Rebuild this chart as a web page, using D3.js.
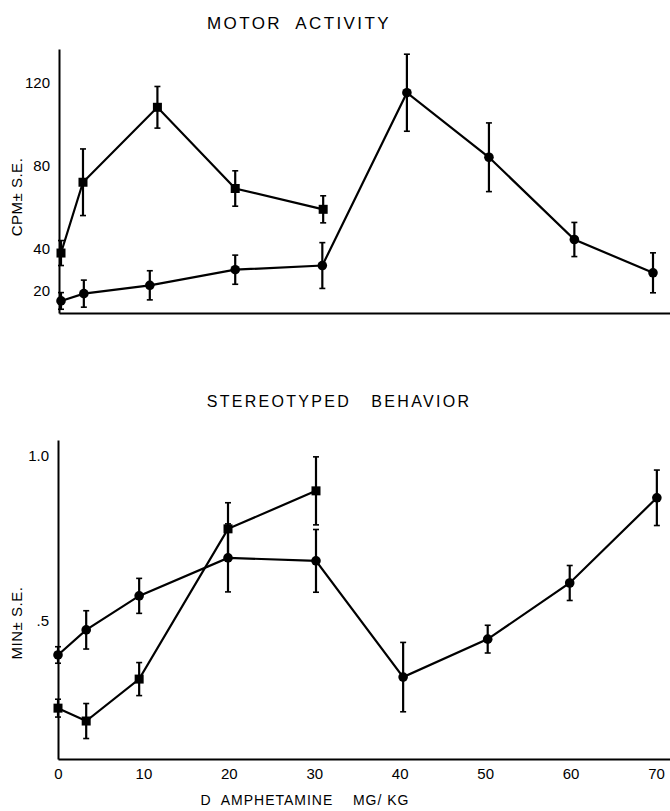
<!DOCTYPE html>
<html>
<head>
<meta charset="utf-8">
<script src="https://cdn.jsdelivr.net/npm/d3@7"></script>
<style>
  body { margin: 0; background: #fff; }
  svg { display: block; font-family: "Liberation Sans", Arial, sans-serif; }
  .lbl { white-space: pre; }
</style>
</head>
<body>
<div id="chart"></div>
<script>
// ---- motor activity (top panel) ----
const topDoseSq = [0, 2.6, 11.4, 20.6, 31.0];
const topCpmSq = [38, 72, 108, 69, 59];
const topCpmSqSE = [6, 16, 10, 8.5, 6.5];

const topDoseCirc = [0, 2.7, 10.5, 20.6, 30.9, 40.9, 50.6, 60.7, 70];
const topCpmCirc = [15, 18.5, 22.5, 30, 32, 115, 84, 44.5, 28.5];
const topCpmCircSE = [4, 6.5, 7, 7, 11, 18.5, 16.5, 8.2, 9.6];

const topTicks = [20, 40, 80, 120];

// ---- stereotyped behavior (bottom panel) ----
const botDoseSq = [0, 3.3, 9.5, 19.9, 30.2];
const botMinSq = [0.236, 0.197, 0.324, 0.779, 0.894];
const botMinSqSE = [0.027, 0.053, 0.05, 0.079, 0.103];

const botDoseCirc = [0, 3.3, 9.5, 19.9, 30.2, 40.4, 50.3, 59.9, 70.1];
const botMinCirc = [0.397, 0.473, 0.576, 0.691, 0.682, 0.330, 0.445, 0.615, 0.873];
const botMinCircSE = [0.025, 0.058, 0.053, 0.103, 0.095, 0.105, 0.042, 0.053, 0.084];

const botTicks = [0.5, 1.0];
const doseTicks = [0, 10, 20, 30, 40, 50, 60, 70];

const W = 670, H = 811;
const FONT = '"Liberation Sans", Arial, sans-serif';

const svg = d3.select('#chart').append('svg')
  .attr('width', W)
  .attr('height', H);

function zip(xs, ys, es) {
  return xs.map((x, i) => ({ x: x, y: ys[i], e: es[i] }));
}

// draws one series: line, error bars, markers
function drawSeries(g, x, y, data, shape) {
  const line = d3.line().x(d => x(d.x)).y(d => y(d.y));
  g.append('path')
    .datum(data)
    .attr('d', line)
    .attr('fill', 'none')
    .attr('stroke', '#000')
    .attr('stroke-width', 2.2);

  const bars = g.append('g').selectAll('g').data(data).join('g');
  bars.append('line')
    .attr('x1', d => x(d.x)).attr('x2', d => x(d.x))
    .attr('y1', d => y(d.y - d.e)).attr('y2', d => y(d.y + d.e))
    .attr('stroke', '#000').attr('stroke-width', 2.2);
  [1, -1].forEach(s => {
    bars.append('line')
      .attr('x1', d => x(d.x) - 3).attr('x2', d => x(d.x) + 3)
      .attr('y1', d => y(d.y + s * d.e)).attr('y2', d => y(d.y + s * d.e))
      .attr('stroke', '#000').attr('stroke-width', 1.6);
  });

  if (shape === 'square') {
    g.append('g').selectAll('rect').data(data).join('rect')
      .attr('x', d => x(d.x) - 4.5)
      .attr('y', d => y(d.y) - 4.5)
      .attr('width', 9).attr('height', 9)
      .attr('fill', '#000');
  } else {
    g.append('g').selectAll('circle').data(data).join('circle')
      .attr('cx', d => x(d.x)).attr('cy', d => y(d.y))
      .attr('r', 4.8)
      .attr('fill', '#000');
  }
}

function styleAxis(g, size) {
  g.attr('font-family', FONT).attr('font-size', size);
  g.select('.domain').attr('stroke', '#000').attr('stroke-width', 2);
  g.selectAll('text').attr('fill', '#000');
}

function addText(txt, x, y, size, spacing, rotate) {
  const t = svg.append('text')
    .attr('class', 'lbl')
    .attr('text-anchor', 'middle')
    .attr('font-family', FONT)
    .attr('font-size', size)
    .attr('letter-spacing', spacing)
    .attr('fill', '#000')
    .text(txt);
  if (rotate) t.attr('transform', `translate(${x},${y}) rotate(-90)`);
  else t.attr('x', x).attr('y', y);
  return t;
}

// ---------- top panel ----------
const xTop = d3.scaleLinear().domain([0, 70]).range([61, 653]);
const yTop = d3.scaleLinear().domain([9.2, 136]).range([313, 49]);

const gTop = svg.append('g');
const xTopAxis = xTop.copy().domain([xTop.invert(59), xTop.invert(670)]).range([59, 670]);
gTop.append('g')
  .attr('transform', 'translate(0,313)')
  .call(d3.axisBottom(xTopAxis).tickValues([]).tickSizeOuter(0))
  .call(g => styleAxis(g, 15));
gTop.append('g')
  .attr('transform', 'translate(59,0)')
  .call(d3.axisLeft(yTop).tickValues(topTicks).tickSize(0).tickPadding(9).tickSizeOuter(0))
  .call(g => styleAxis(g, 15));

drawSeries(gTop, xTop, yTop, zip(topDoseSq, topCpmSq, topCpmSqSE), 'square');
drawSeries(gTop, xTop, yTop, zip(topDoseCirc, topCpmCirc, topCpmCircSE), 'circle');

addText('MOTOR  ACTIVITY', 299, 29, 17, 2.4);
addText('CPM\u00B1 S.E.', 22, 197, 15, 0.5, true);

// ---------- bottom panel ----------
const xBot = d3.scaleLinear().domain([0, 70]).range([58, 656]);
const yBot = d3.scaleLinear().domain([0.082, 1.048]).range([759, 440]);

const gBot = svg.append('g');
const xBotAxis = xBot.copy().domain([0, xBot.invert(670)]).range([58, 670]);
gBot.append('g')
  .attr('transform', 'translate(0,759)')
  .call(d3.axisBottom(xBotAxis).tickValues(doseTicks).tickSize(0).tickPadding(9).tickSizeOuter(0))
  .call(g => styleAxis(g, 15));
gBot.append('g')
  .attr('transform', 'translate(58,0)')
  .call(d3.axisLeft(yBot).tickValues(botTicks).tickSize(0).tickPadding(9).tickSizeOuter(0)
    .tickFormat(d => d === 1 ? '1.0' : '.5'))
  .call(g => styleAxis(g, 15));

drawSeries(gBot, xBot, yBot, zip(botDoseSq, botMinSq, botMinSqSE), 'square');
drawSeries(gBot, xBot, yBot, zip(botDoseCirc, botMinCirc, botMinCircSE), 'circle');

addText('STEREOTYPED   BEHAVIOR', 339, 407, 16, 2.3);
addText('MIN\u00B1 S.E.', 22, 623, 15, 0.5, true);
addText('D  AMPHETAMINE    MG/ KG', 305, 805, 14, 1);
</script>
</body>
</html>
